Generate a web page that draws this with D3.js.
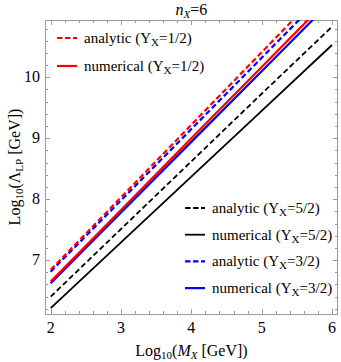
<!DOCTYPE html>
<html>
<head>
<meta charset="utf-8">
<script src="https://cdn.jsdelivr.net/npm/d3@7"></script>
<style>
  body { margin: 0; background: #fff; }
  svg text { font-family: "Liberation Serif", "Times New Roman", "DejaVu Serif", serif; }
</style>
</head>
<body>
<svg id="chart" width="341" height="362"></svg>
<script>
// values, at log10(M_X) = 2..6
const logM = [2, 3, 4, 5, 6];
const analyticHalf = [6.84, 8.03, 9.22, 10.41, 11.60];
const numericalHalf = [6.65, 7.82, 9.00, 10.17, 11.34];
const analyticFive = [6.40, 7.51, 8.62, 9.73, 10.83];
const numericalFive = [6.21, 7.29, 8.37, 9.45, 10.53];
const analyticThree = [6.81, 7.98, 9.15, 10.32, 11.49];
const numericalThree = [6.62, 7.78, 8.94, 10.10, 11.26];

const xTicks = [2, 3, 4, 5, 6];
const yTicks = [7, 8, 9, 10];

const series = [
  { name: "analytic", y: "5/2", values: analyticFive, color: "#000", dash: true, w: 1.8 },
  { name: "numerical", y: "5/2", values: numericalFive, color: "#000", dash: false, w: 1.8 },
  { name: "analytic", y: "3/2", values: analyticThree, color: "#0000ff", dash: true, w: 2.2 },
  { name: "numerical", y: "3/2", values: numericalThree, color: "#0000ff", dash: false, w: 2.2 },
  { name: "analytic", y: "1/2", values: analyticHalf, color: "#ff0000", dash: true, w: 2.2 },
  { name: "numerical", y: "1/2", values: numericalHalf, color: "#ff0000", dash: false, w: 2.2 }
];

const svg = d3.select("#chart");
const margin = { top: 20, right: 3, bottom: 48, left: 45 };
const width = 341 - margin.left - margin.right;
const height = 362 - margin.top - margin.bottom;

const g = svg.append("g").attr("transform", `translate(${margin.left},${margin.top})`);

const x = d3.scaleLinear().domain([1.919, 6.085]).range([0, width]);
const y = d3.scaleLinear().domain([6.115, 10.94]).range([height, 0]);

const frameColor = "#9a9a9a";

// minor + major ticks on all four sides
const xMinor = d3.range(2, 6.0001, 0.2).filter(v => v > 1.919 && v < 6.085);
const yMinor = d3.range(6.2, 10.9001, 0.2);
const isMajor = v => Math.abs(v - Math.round(v)) < 1e-6;

const ticks = g.append("g").attr("stroke", frameColor).attr("stroke-width", 1);
xMinor.forEach(v => {
  const len = isMajor(v) ? 5 : 3;
  const px = Math.round(x(v)) + 0.5;
  ticks.append("line").attr("x1", px).attr("x2", px).attr("y1", height).attr("y2", height - len);
  ticks.append("line").attr("x1", px).attr("x2", px).attr("y1", 0).attr("y2", len);
});
yMinor.forEach(v => {
  const len = isMajor(v) ? 5 : 3;
  const py = Math.round(y(v)) + 0.5;
  ticks.append("line").attr("x1", 0).attr("x2", len).attr("y1", py).attr("y2", py);
  ticks.append("line").attr("x1", width).attr("x2", width - len).attr("y1", py).attr("y2", py);
});

// frame
g.append("rect")
  .attr("x", 0.5).attr("y", 0.5)
  .attr("width", width - 1).attr("height", height)
  .attr("fill", "none")
  .attr("stroke", frameColor)
  .attr("stroke-width", 1);

// tick labels
g.append("g").selectAll("text")
  .data(xTicks)
  .enter().append("text")
  .attr("x", d => x(d))
  .attr("y", height + 19)
  .attr("text-anchor", "middle")
  .attr("font-size", 16)
  .text(d => d);

g.append("g").selectAll("text")
  .data(yTicks)
  .enter().append("text")
  .attr("x", -5)
  .attr("y", d => y(d) + 5)
  .attr("text-anchor", "end")
  .attr("font-size", 16)
  .text(d => d);

// curves
g.append("clipPath").attr("id", "clip")
  .append("rect").attr("width", width).attr("height", height);

const line = d3.line()
  .x((d, i) => x(logM[i]))
  .y(d => y(d));

g.append("g").attr("clip-path", "url(#clip)")
  .selectAll("path")
  .data(series)
  .enter().append("path")
  .attr("d", d => line(d.values))
  .attr("fill", "none")
  .attr("stroke", d => d.color)
  .attr("stroke-width", d => d.w)
  .attr("stroke-dasharray", d => d.dash ? "5.5,3" : null);

// legends
function legendRow(s, lx, ly) {
  g.append("line")
    .attr("x1", lx).attr("x2", lx + 20)
    .attr("y1", ly).attr("y2", ly)
    .attr("stroke", s.color)
    .attr("stroke-width", s.w)
    .attr("stroke-dasharray", s.dash ? "5.5,2.5" : null);
  const t = g.append("text")
    .attr("x", lx + 27)
    .attr("y", ly + 5)
    .attr("font-size", 15);
  t.append("tspan").text(`${s.name} (Y`);
  t.append("tspan").attr("font-size", 11).attr("dy", 3).text("X");
  t.append("tspan").attr("dy", -3).text(`=${s.y})`);
}

const topLeft = [series[4], series[5]];
topLeft.forEach((s, i) => legendRow(s, 12, 18 + i * 28));

const bottomRight = [series[0], series[1], series[2], series[3]];
bottomRight.forEach((s, i) => legendRow(s, 140, 188 + i * 26.7));

// title
const title = svg.append("text")
  .attr("x", margin.left + width / 2)
  .attr("y", 15)
  .attr("text-anchor", "middle")
  .attr("font-size", 16);
title.append("tspan").attr("font-style", "italic").text("n");
title.append("tspan").attr("font-style", "italic").attr("font-size", 11).attr("dy", 3).text("X");
title.append("tspan").attr("dy", -3).text("=6");

// x label
const xl = svg.append("text")
  .attr("x", margin.left + width / 2)
  .attr("y", 356)
  .attr("text-anchor", "middle")
  .attr("font-size", 16);
xl.append("tspan").text("Log");
xl.append("tspan").attr("font-size", 11).attr("dy", 3).text("10");
xl.append("tspan").attr("dy", -3).text("(");
xl.append("tspan").attr("font-style", "italic").text("M");
xl.append("tspan").attr("font-style", "italic").attr("font-size", 11).attr("dy", 3).text("X");
xl.append("tspan").attr("dy", -3).text(" [GeV])");

// y label
const yl = svg.append("text")
  .attr("transform", `translate(20,${margin.top + height / 2}) rotate(-90)`)
  .attr("text-anchor", "middle")
  .attr("font-size", 16);
yl.append("tspan").text("Log");
yl.append("tspan").attr("font-size", 11).attr("dy", 3).text("10");
yl.append("tspan").attr("dy", -3).text("(\u039B");
yl.append("tspan").attr("font-size", 11).attr("dy", 3).text("LP");
yl.append("tspan").attr("dy", -3).text(" [GeV])");
</script>
</body>
</html>
